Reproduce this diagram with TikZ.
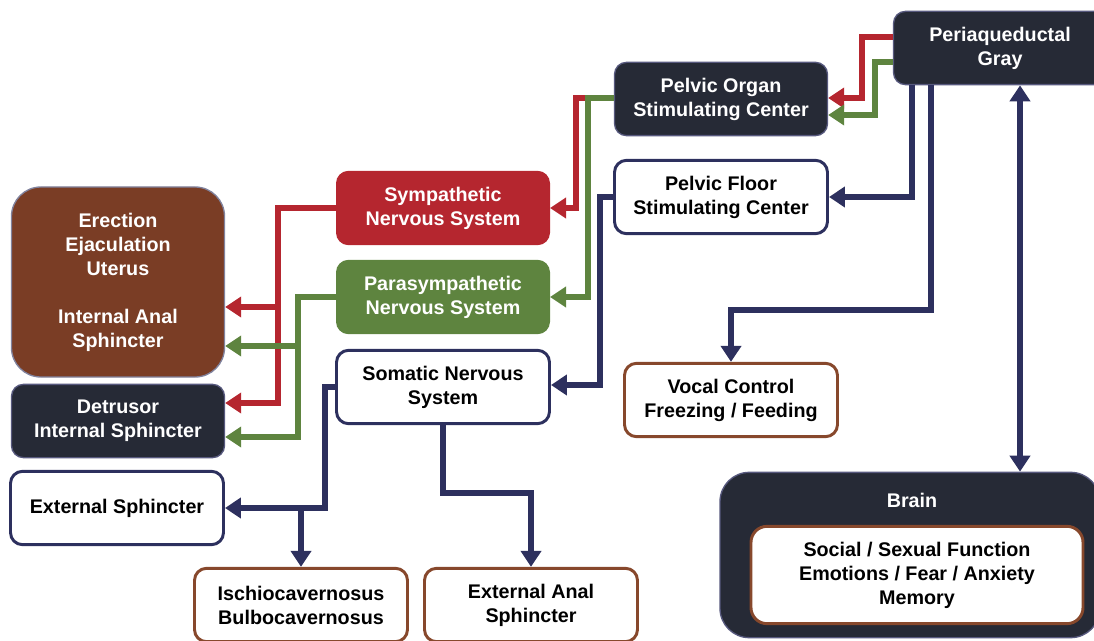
\documentclass[tikz,border=0pt]{standalone}
\usepackage{fontspec}
\setmainfont{Liberation Sans}
\usetikzlibrary{arrows.meta}

\definecolor{pagnavy}{RGB}{38,42,54}
\definecolor{linenavy}{RGB}{45,48,94}
\definecolor{sympred}{RGB}{181,38,47}
\definecolor{paragreen}{RGB}{94,132,63}
\definecolor{organbrown}{RGB}{122,61,37}
\definecolor{edgebrown}{RGB}{135,72,44}

\tikzset{every picture/.style={line width=0.75pt}}
\tikzset{
  box/.style={rectangle, rounded corners=9pt, align=center, inner sep=0pt,
    font=\fontsize{14.8}{18}\selectfont\bfseries,
    minimum width=159.75pt, minimum height=55pt},
  darkbox/.style={box, fill=pagnavy, draw=linenavy!80, line width=1pt, text=white},
  navybox/.style={box, fill=white, draw=linenavy, line width=2.2pt},
  brownbox/.style={box, fill=white, draw=edgebrown, line width=2.2pt},
  organbox/.style={box, fill=organbrown, draw=linenavy!60, line width=1pt, text=white},
  sympbox/.style={box, fill=sympred, draw=sympred, text=white},
  parabox/.style={box, fill=paragreen, draw=paragreen, text=white},
  nerve/.style={line width=4pt, miter limit=10, -{Triangle[length=12pt,width=15pt]}},
  sympline/.style={nerve, draw=sympred},
  paraline/.style={nerve, draw=paragreen},
  somline/.style={nerve, draw=linenavy},
}

\begin{document}
\begin{tikzpicture}[x=0.75pt,y=0.75pt,yscale=-1,xscale=1]
\useasboundingbox (0,0) rectangle (1094,641);

% boxes, right column
\node[darkbox] (pag) at (1000,48) {Periaqueductal\\Gray};
\node[darkbox] (pog) at (721,99) {Pelvic Organ\\Stimulating Center};
\node[navybox] (pfc) at (721,197) {Pelvic Floor\\Stimulating Center};
\node[brownbox] (voc) at (731,400) {Vocal Control\\Freezing / Feeding};
\node[darkbox, minimum width=285pt, minimum height=124pt, rounded corners=22pt] (brain) at (910,555) {};
\node[font=\fontsize{14.8}{18}\selectfont\bfseries, text=white] (brainlabel) at (912,500) {Brain};
\node[brownbox, minimum width=249pt, minimum height=73pt, rounded corners=12pt] (mind) at (917,575) {Social / Sexual Function\\Emotions / Fear / Anxiety\\Memory};

% boxes, middle column
\node[sympbox] (sns) at (443,208) {Sympathetic\\Nervous System};
\node[parabox] (pns) at (443,297) {Parasympathetic\\Nervous System};
\node[navybox] (som) at (443,387) {Somatic Nervous\\System};

% boxes, left and bottom
\node[organbox, minimum height=142.5pt, rounded corners=22pt] (ere) at (118,282) {Erection\\Ejaculation\\Uterus\\[18pt]Internal Anal\\Sphincter};
\node[darkbox] (det) at (118,421) {Detrusor\\Internal Sphincter};
\node[navybox] (ext) at (117,508) {External Sphincter};
\node[brownbox] (isc) at (301,605) {Ischiocavernosus\\Bulbocavernosus};
\node[brownbox] (eas) at (531,605) {External Anal\\Sphincter};

% branch points
\coordinate (sjoin) at (278,307);
\coordinate (pjoin) at (298,346);
\coordinate (sbranch) at (isc.north |- ext.east);

% PAG outputs
\draw[sympline] (pag.west |- 0,37) -| (862,98) -- (pog.east |- 0,98);
\draw[paraline] (pag.west |- 0,62) -| (875,115) -- (pog.east |- 0,115);
\draw[somline] (pag.south -| 912,0) |- (pfc.east);
\draw[somline] (pag.south -| 931,0) |- (731,310) -- (voc.north);
\draw[somline, {Triangle[length=12pt,width=15pt]}-{Triangle[length=12pt,width=15pt]}] (pag.south -| 1020,0) -- (brain.north -| 1020,0);

% pelvic centers to nervous systems
\draw[sympline] (pog.west |- 0,98) -| (576,208) -- (sns.east |- 0,208);
\draw[paraline] (pog.west |- 0,98) -| (588,297) -- (pns.east |- 0,297);
\draw[somline] (pfc.west) -| (600,385) -- (som.east |- 0,385);

% nervous systems to targets
\draw[sympline] (sns.west) -| (278,403) -- (det.east |- 0,403);
\draw[sympline] (sjoin) -- (ere.east |- sjoin);
\draw[paraline] (pns.west) -| (298,437) -- (det.east |- 0,437);
\draw[paraline] (pjoin) -- (ere.east |- pjoin);
\draw[somline] (som.west) -| (325,508) -- (ext.east);
\draw[somline] (sbranch) -- (isc.north);
\draw[somline] (som.south) |- (eas.north |- 0,493) -- (eas.north);

\end{tikzpicture}
\end{document}
